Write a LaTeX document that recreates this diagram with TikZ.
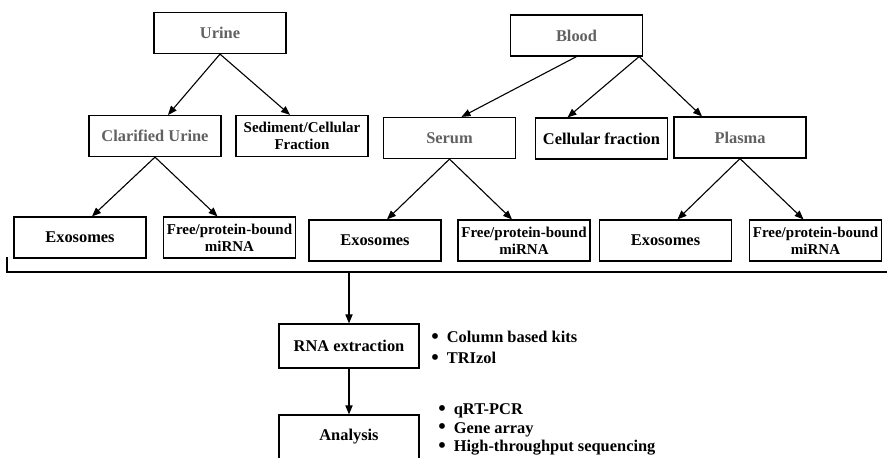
\documentclass[tikz,border=0pt]{standalone}
\usepackage{fontspec}
\setmainfont{Liberation Serif}
\usepackage{xcolor}
\usetikzlibrary{arrows.meta, positioning}
\newcommand{\bul}{\smash{\raisebox{-0.1ex}{\scalebox{1.3}{\textbullet}}}\hspace{4pt}}

\begin{document}
\begin{tikzpicture}[x=0.5pt, y=-0.5pt,
  box/.style={draw, line width=0.6pt, minimum width=66pt, minimum height=20.5pt, inner sep=1pt, align=center, font=\fontsize{8.2}{9}\selectfont\bfseries},
  twoline/.style={box, font=\fontsize{7.5}{8.4}\selectfont\bfseries},
  source/.style={box, text=black!62},
  stage/.style={box, minimum width=70pt, minimum height=22pt},
  arr/.style={-{Triangle[length=4.5pt, width=3.6pt]}, line width=0.55pt},
  bullets/.style={anchor=west, align=left, inner sep=0pt, font=\fontsize{8.2}{10.5}\selectfont\bfseries}]
  \clip (0,0) rectangle (887,457);

  % Sample sources
  \node[source] (urine) at (220,33) {Urine};
  \node[source] (blood) at (576.5,35.5) {Blood};

  % Fractions
  \node[source] (clarified) at (155,136) {Clarified Urine};
  \node[twoline] (sediment) at (302,136) {Sediment/Cellular\\Fraction};
  \node[source] (serum) at (449.5,138) {Serum};
  \node[box] (cellular) at (601.5,138.5) {Cellular fraction};
  \node[source] (plasma) at (740,137.5) {Plasma};

  \draw[arr] (urine.south) -- ([xshift=6.5pt]clarified.north);
  \draw[arr] (urine.south) -- ([xshift=-6pt]sediment.north);
  \draw[arr] (blood.south) -- ([xshift=6pt]serum.north);
  \draw[arr] ([xshift=-2pt]blood.south east) -- ([xshift=-17pt]cellular.north);
  \draw[arr] ([xshift=-2pt]blood.south east) -- ([xshift=-19pt]plasma.north);

  % Exosomes and free miRNA
  \foreach \p/\ex/\fx/\y [count=\i] in {clarified/80/229.5/237.5, serum/375/524/240.5, plasma/665.5/815.5/240.5} {
    \node[box] (exo\i) at (\ex,\y) {Exosomes};
    \node[twoline] (free\i) at (\fx,\y) {Free/protein-bound\\miRNA};
    \draw[arr] (\p.south) -- ([xshift=6pt]exo\i.north);
    \draw[arr] (\p.south) -- ([xshift=-6pt]free\i.north);
  }

  % Bracket
  \coordinate (brL) at (7,257);
  \coordinate (brR) at (887,272);
  \draw[line width=0.6pt] (brL) |- (brR);

  % Extraction and analysis
  \node[stage] (rna) at (349,346) {RNA extraction};
  \node[stage] (analysis) at (349,437) {Analysis};
  \draw[arr] (rna.north |- brR) -- (rna.north);
  \draw[arr] (rna) -- (analysis);

  \node[bullets] (kits) at (431,347.5) {\bul Column based kits\\\bul TRIzol};
  \node[bullets, font=\fontsize{8.2}{9.3}\selectfont\bfseries] (methods) at (438,429.5) {\bul qRT-PCR\\\bul Gene array\\\bul High-throughput sequencing};
\end{tikzpicture}
\end{document}
